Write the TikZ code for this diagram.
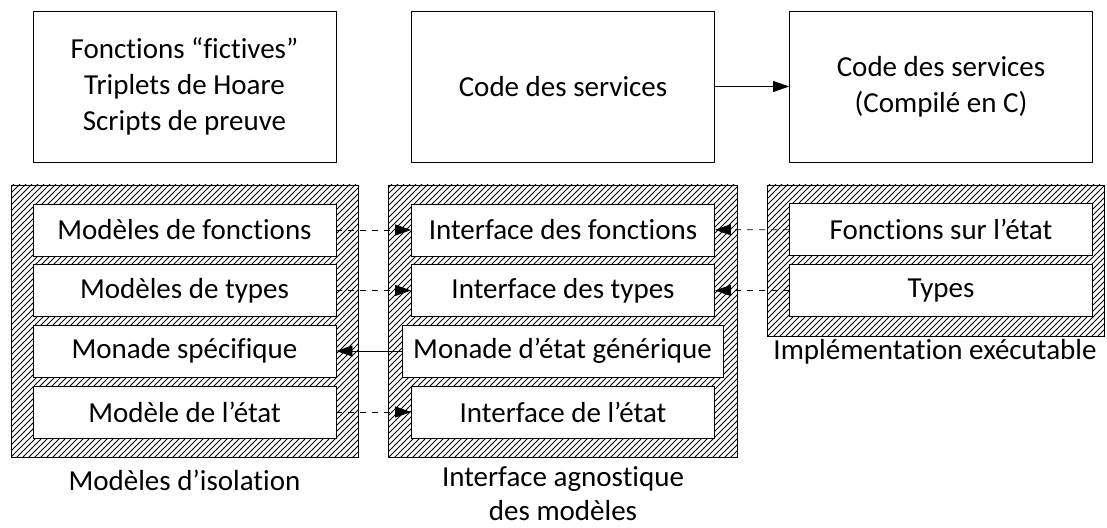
\documentclass[tikz,border=0pt]{standalone}
\usepackage{fontspec}
\setmainfont{Carlito}[Ligatures=NoCommon]
\usetikzlibrary{patterns,arrows.meta}

\begin{document}
\begin{tikzpicture}[x=0.5pt,y=-0.5pt,
    font=\fontsize{14.5}{18}\selectfont,
    box/.style={draw,fill=white,minimum width=151.5pt,minimum height=26pt,inner sep=0pt},
    bigbox/.style={draw,align=center,minimum width=151.5pt,minimum height=75.5pt},
    hatch/.style={draw,pattern=north east lines,inner sep=0pt},
    dep/.style={-{Triangle[length=8pt,width=5.5pt]}}]
    \useasboundingbox (0,0) rectangle (1107,528);

    % boites du haut
    \node[bigbox] (fictives) at (184.5,86.5) {Fonctions “fictives”\\Triplets de Hoare\\Scripts de preuve};
    \node[bigbox] (code) at (563,86.5) {Code des services};
    \node[bigbox] (codec) at (941,86.5) {Code des services\\(Compilé en C)};

    % cadres hachures
    \node[hatch,minimum width=173.5pt,minimum height=136pt] (isol) at (184.5,321) {};
    \node[hatch,minimum width=174.5pt,minimum height=136pt] (agno) at (562.5,321) {};
    \node[hatch,minimum width=168.5pt,minimum height=75.5pt] (impl) at (935.5,260.5) {};

    % modeles d'isolation
    \node[box] (mfonc) at (184.5,230) {Modèles de fonctions};
    \node[box] (mtypes) at (184.5,290.5) {Modèles de types};
    \node[box] (mmonade) at (184.5,351) {Monade spécifique};
    \node[box] (metat) at (184.5,412) {Modèle de l’état};
    \node (isollab) at (184.5,480) {Modèles d’isolation};

    % interface agnostique
    \node[box] (ifonc) at (563,230) {Interface des fonctions};
    \node[box] (itypes) at (563,290.5) {Interface des types};
    \node[box,minimum width=160.5pt] (imonade) at (562.5,351) {Monade d’état générique};
    \node[box] (ietat) at (563,412) {Interface de l’état};
    \node[align=center,font=\fontsize{14.5}{17}\selectfont] (agnolab) at (563,494) {Interface agnostique\\des modèles};

    % implementation
    \node[box] (efonc) at (941,229.5) {Fonctions sur l’état};
    \node[box] (etypes) at (941,290.5) {Types};
    \node (impllab) at (935,352) {Implémentation exécutable};

    \draw[dep] (code) -- (codec);
    \draw[dep,dashed] (mfonc) -- (ifonc);
    \draw[dep,dashed] (mtypes) -- (itypes);
    \draw[dep] (imonade) -- (mmonade);
    \draw[dep,dashed] (metat) -- (ietat);
    \draw[dep,dashed] (efonc) -- (ifonc);
    \draw[dep,dashed] (etypes) -- (itypes);
\end{tikzpicture}
\end{document}
